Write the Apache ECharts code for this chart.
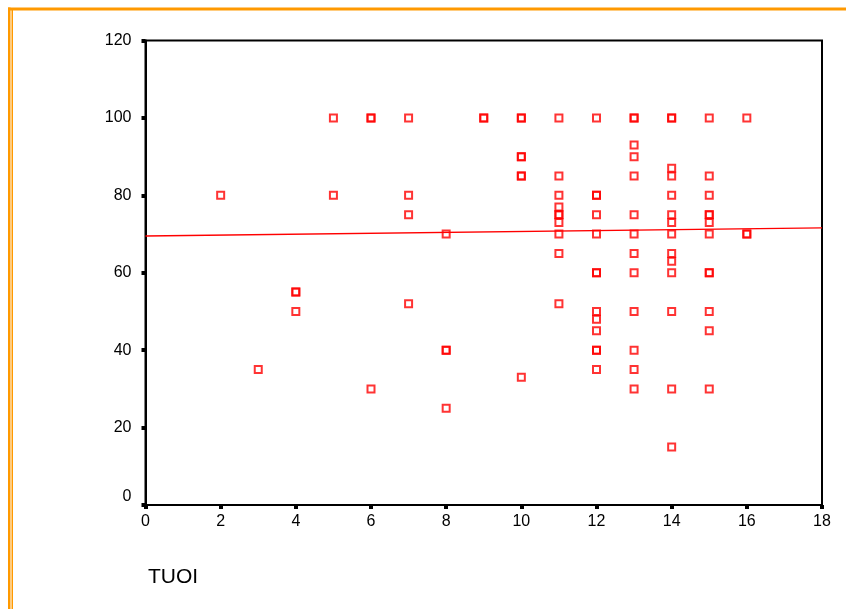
<!DOCTYPE html>
<html>
<head>
<meta charset="utf-8">
<script src="https://cdn.jsdelivr.net/npm/echarts@6/dist/echarts.min.js"></script>
<style>
html,body{margin:0;padding:0;background:#fff;}
#chart{width:846px;height:609px;}
</style>
</head>
<body>
<div id="chart"></div>
<script>
// Data
const ageX   = [2, 3, 4, 4, 4, 5, 5, 6, 6, 6, 7, 7, 7, 7, 8, 8, 8, 8, 9, 9,
  10, 10, 10, 10, 10, 10, 10,
  11, 11, 11, 11, 11, 11, 11, 11, 11, 11,
  12, 12, 12, 12, 12, 12, 12, 12, 12, 12, 12, 12, 12,
  13, 13, 13, 13, 13, 13, 13, 13, 13, 13, 13, 13, 13,
  14, 14, 14, 14, 14, 14, 14, 14, 14, 14, 14, 14, 14, 14,
  15, 15, 15, 15, 15, 15, 15, 15, 15, 15, 15, 15,
  16, 16, 16];
const scoreY = [80, 35, 55, 55, 50, 100, 80, 100, 100, 30, 100, 80, 75, 52, 70, 40, 40, 25, 100, 100,
  100, 100, 90, 90, 85, 85, 33,
  100, 85, 80, 77, 75, 75, 73, 70, 65, 52,
  100, 80, 80, 75, 70, 60, 60, 50, 48, 45, 40, 40, 35,
  100, 100, 93, 90, 85, 75, 70, 65, 60, 50, 40, 35, 30,
  100, 100, 87, 85, 80, 75, 73, 70, 65, 63, 60, 50, 30, 15,
  100, 85, 80, 75, 75, 73, 70, 60, 60, 50, 45, 30,
  100, 70, 70];
// Fit line endpoints (x, y)
const fitX = [0, 18];
const fitY = [69.5, 71.6];
const xTicks = [0, 2, 4, 6, 8, 10, 12, 14, 16, 18];
const yTicks = [0, 20, 40, 60, 80, 100, 120];
const xTitle = 'TUOI';

const chart = echarts.init(document.getElementById('chart'));
const font = 'Arial, "Liberation Sans", sans-serif';
const orange = '#FF9900';

chart.setOption({
  animation: false,
  backgroundColor: '#ffffff',
  title: {
    text: xTitle,
    left: 143,
    top: 562,
    textStyle: {fontFamily: font, fontSize: 21, fontWeight: 'normal', color: '#000'}
  },
  grid: {
    left: 145.5, top: 40.5, right: 24, bottom: 104,
    show: true, borderColor: '#000', borderWidth: 2, backgroundColor: 'transparent'
  },
  xAxis: {
    type: 'value', min: xTicks[0], max: xTicks[xTicks.length - 1], interval: 2,
    splitLine: {show: false},
    axisLine: {lineStyle: {color: '#000', width: 2}},
    axisTick: {show: true, length: 4, lineStyle: {color: '#000', width: 4}},
    axisLabel: {fontFamily: font, fontSize: 16, color: '#000', margin: 9}
  },
  yAxis: {
    type: 'value', min: yTicks[0], max: yTicks[yTicks.length - 1], interval: 20,
    splitLine: {show: false},
    axisLine: {lineStyle: {color: '#000', width: 2}},
    axisTick: {show: true, length: 4, lineStyle: {color: '#000', width: 4}},
    axisLabel: {
      fontFamily: font, fontSize: 16, color: '#000', margin: 14,
      formatter: v => v === 0 ? '{z|0}' : String(v),
      rich: {z: {fontFamily: font, fontSize: 16, color: '#000', padding: [0, 0, 16, 0]}}
    }
  },
  series: [
    {
      type: 'scatter',
      data: ageX.map((x, i) => [x, scoreY[i]]),
      symbol: 'rect',
      symbolSize: 7,
      itemStyle: {color: 'rgba(255,255,255,0)', borderColor: '#FF0000', borderWidth: 2},
      z: 3
    },
    {
      type: 'line',
      data: fitX.map((x, i) => [x, fitY[i]]),
      symbol: 'none',
      lineStyle: {color: '#FF0000', width: 1.3},
      z: 2
    }
  ],
  graphic: [
    {type: 'rect', shape: {x: 8, y: 7.5, width: 838, height: 3}, style: {fill: orange}, silent: true},
    {type: 'rect', shape: {x: 8, y: 7.5, width: 2.5, height: 602}, style: {fill: orange}, silent: true},
    {type: 'rect', shape: {x: 11.5, y: 10, width: 1.5, height: 600}, style: {fill: orange}, silent: true}
  ]
});
</script>
</body>
</html>
